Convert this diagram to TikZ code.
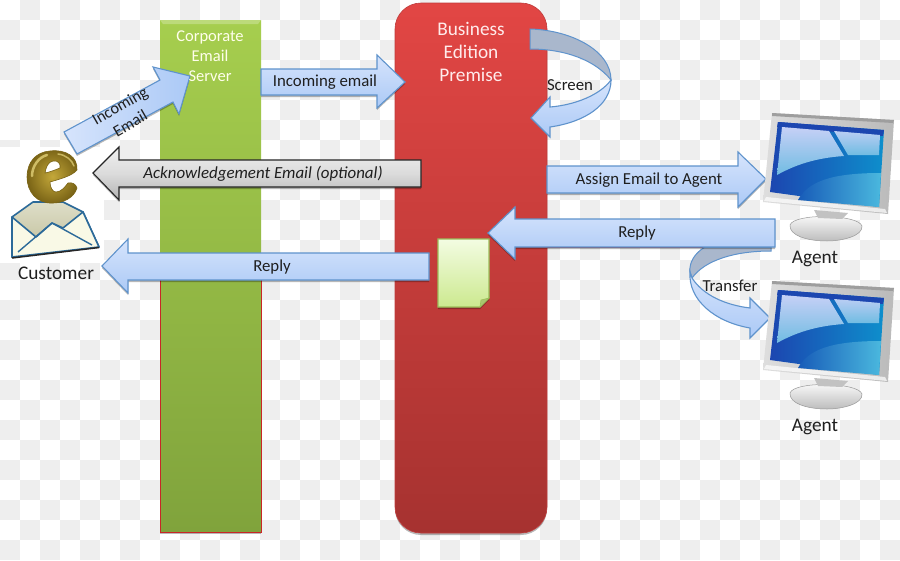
\documentclass[tikz,border=0pt]{standalone}
\usepackage{fontspec}
\setmainfont{Carlito}
\usetikzlibrary{shadows}
\definecolor{chk}{HTML}{EEEEEE}
\definecolor{arrowline}{HTML}{5F93CC}
\definecolor{arrowhi}{HTML}{D6E4FC}
\definecolor{arrowlo}{HTML}{ABC9F6}
\definecolor{foldband}{HTML}{A9B7CC}
\definecolor{goldlo}{HTML}{7A6416}
\definecolor{goldmid}{HTML}{C4A83A}
\definecolor{goldhi}{HTML}{E8D77E}
\definecolor{envline}{HTML}{2C6A99}
\definecolor{scrband}{HTML}{1C46B0}
\definecolor{scrmid}{HTML}{0E8FCC}
\definecolor{scrcyan}{HTML}{4AB8DE}
\definecolor{glarehi}{HTML}{C6D0F6}
\definecolor{glarelo}{HTML}{70BCE2}
\definecolor{servertop}{HTML}{A6CE4E}
\definecolor{servermid}{HTML}{9CC249}
\definecolor{serverlow}{HTML}{80A33C}
\definecolor{premisetop}{HTML}{E24644}
\definecolor{premisemid}{HTML}{CF3F3D}
\definecolor{premiselow}{HTML}{A63230}
\tikzset{
  softshadow/.style={drop shadow={shadow xshift=0pt,shadow yshift=-2pt,opacity=.28,fill=black}},
  blockarrow/.style={draw=arrowline,line width=1.1pt,line join=miter,top color=arrowhi,bottom color=arrowlo,softshadow},
  curvearrow/.style={draw=arrowline,line width=1.1pt,line join=miter,top color=arrowhi,bottom color=arrowlo},
  greyarrow/.style={draw=black!85,line width=1.1pt,top color=black!6,bottom color=black!30,middle color=black!14,softshadow},
  foldedband/.style={draw=arrowline,line width=1pt,fill=foldband},
  lbl/.style={font=\fontsize{16.8}{19}\selectfont,text=black!88,align=center,inner sep=0pt},
  barlbl/.style={font=\fontsize{16.5}{20}\selectfont,text=white!92!yellow,align=center,inner sep=0pt},
  biglbl/.style={font=\fontsize{19.3}{23}\selectfont,text=white!92!red,align=center,inner sep=0pt},
  iconlbl/.style={font=\fontsize{19.3}{21}\selectfont,text=black!88,inner sep=0pt},
  monitor/.pic={
    \path[draw=black!40,line width=.5pt,top color=white,bottom color=black!26] (790,225) .. controls (794,213) and (858,214) .. (862,226) .. controls (863,236) and (842,241) .. (827,241) .. controls (806,241) and (789,235) .. (790,225) -- cycle;
    \path[fill=black!24] (814,210) -- (848,213) -- (842,219) -- (818,218) -- cycle;
    \path[left color=black!13,right color=black!27] (772,113) -- (894,120) -- (888,214) -- (763,202) -- cycle;
    \path[fill=black!38] (772,113) -- (894,120) -- (893,123) -- (772,116) -- cycle;
    \path[fill=white,opacity=.7] (764,201) -- (887,213) -- (885,209) -- (766,197) -- cycle;
    \path[left color=scrband,right color=scrmid] (778,122) -- (884,130) -- (879,207) -- (770,192) -- cycle;
    \path[fill=scrband] (778,122) -- (884,130) -- (883,136) -- (777,127) -- cycle;
    \path[left color=scrband!70!scrmid,right color=scrcyan] (798,200) .. controls (808,182) and (830,173) .. (881,173) -- (879,207) -- cycle;
    \path[top color=glarehi,bottom color=glarelo] (782,127) -- (829,131) -- (844,156) .. controls (815,158) and (795,165) .. (777,175) -- cycle;
    \path[top color=glarehi!85!glarelo,bottom color=glarelo] (834,131) -- (880,135) -- (879,155) -- (848,155) -- cycle;
  }
}
\begin{document}
\begin{tikzpicture}[x=1pt,y=-1pt]
\useasboundingbox (0,0) rectangle (900,560);
% transparent-grid backdrop
\fill[white] (0,0) rectangle (900,560);
\foreach \i in {0,...,44}{
  \foreach \j in {0,...,27}{
    \pgfmathtruncatemacro{\chkodd}{mod(\i+\j,2)}
    \ifnum\chkodd=1 \fill[chk] (20*\i,20*\j) rectangle +(20,20); \fi
  }
}
% clear ground behind the mail icon
\fill[white] (0,147) rectangle (104,263);
% server column
\path[softshadow,top color=servertop,middle color=servermid,bottom color=serverlow] (160,20) rectangle (261,532);
\path[fill=white,opacity=.25] (160,20) -- (261,20) -- (258,24) -- (163,24) -- cycle;
\draw[red!75!black!85,line width=1pt] (160,280) -- (160,532.5) -- (261,532.5) -- (261,280);
% premise column
\path[softshadow,draw={rgb,255:red,190;green,60;blue,60},line width=.6pt,rounded corners=26pt,top color=premisetop,middle color=premisemid,bottom color=premiselow] (395,3) rectangle (547,533);
% document sheet with folded corner
\path[draw={rgb,255:red,155;green,190;blue,90},line width=1.1pt,top color={rgb,255:red,243;green,252;blue,226},bottom color={rgb,255:red,204;green,233;blue,143},softshadow] (438,239) -- (489,239) -- (489,298) -- (480,307) -- (438,307) -- cycle;
\path[draw={rgb,255:red,155;green,190;blue,90},fill={rgb,255:red,170;green,196;blue,112},line width=.6pt] (489,298) -- (481,300) -- (480,307) -- cycle;
% straight block arrows
\path[blockarrow,left color=arrowhi,right color=arrowlo] (64,132) -- (160,80) -- (153,67) -- (190,76) -- (179,114) -- (173,102) -- (77,154) -- cycle;
\path[blockarrow] (261,69) -- (377,69) -- (377,55) -- (405,82) -- (377,108) -- (377,95) -- (261,95) -- cycle;
\path[greyarrow] (421,160) -- (119,160) -- (119,147) -- (93,173) -- (119,200) -- (119,187) -- (421,187) -- cycle;
\path[blockarrow] (429,253) -- (128,253) -- (128,239) -- (102,266) -- (128,293) -- (128,280) -- (429,280) -- cycle;
\path[blockarrow] (547,166) -- (738,166) -- (738,152) -- (766,179) -- (738,207) -- (738,193) -- (547,193) -- cycle;
\draw[red!70!black!80,line width=1pt] (515,247.5) -- (705,247.5);
% looping arrow beside the premise column
\path[foldedband] (530,29) .. controls (570,30) and (611,50) .. (611,80) .. controls (595,60) and (565,49) .. (530,49) -- cycle;
\path[curvearrow] (611,80) .. controls (611,105) and (585,122) .. (550,127) -- (550,137) -- (531,118) -- (550,97) -- (550,107) .. controls (575,105) and (600,95) .. (611,80) -- cycle;
% transfer arrow between the agents
\path[foldedband] (771,247) -- (771,251) .. controls (735,251) and (705,260) .. (692,278) -- (690,272) .. controls (689,262) and (695,253) .. (705,247) -- cycle;
\path[blockarrow] (775,219) -- (515,219) -- (515,207) -- (488,233) -- (515,259) -- (515,247) -- (775,247) -- cycle;
\path[curvearrow] (690,272) .. controls (688,300) and (715,322) .. (750,328) -- (750,338) -- (770,318) -- (750,298) -- (750,308) .. controls (725,305) and (703,295) .. (692,278) -- cycle;
% agent workstations
\pic (agentA) at (0,0) {monitor};
\pic (agentB) at (0,168) {monitor};
% customer mail icon: envelope body, flap lines and the gold letter
\path[draw=envline,line width=1.6pt,top color={rgb,255:red,222;green,222;blue,200},bottom color={rgb,255:red,190;green,188;blue,150},line join=round] (12,217) -- (33,202) -- (63,202) -- (83,212) -- (99,247) -- (12,257) -- cycle;
\path[draw=envline,line width=1.6pt,fill={rgb,255:red,249;green,249;blue,230},line join=round] (12,217) -- (36,237) -- (52,223) -- (63,228) -- (83,212) -- (99,247) -- (12,257) -- cycle;
\draw[envline,line width=1.4pt,line join=round] (18,252) -- (52,223) -- (92,245);
\draw[black!85,line width=1.5pt] (12,258) -- (99,247.5);
\path[even odd rule,draw=goldlo,line width=.6pt,inner color=goldmid,outer color=goldlo]
  (27,177) .. controls (27,162) and (36,152) .. (50,151) .. controls (66,149) and (78,157) .. (77,170)
  .. controls (72,176) and (60,179) .. (50,182) .. controls (50,188) and (53,192) .. (56,192)
  .. controls (61,192) and (65,187) .. (68,183) .. controls (72,182) and (76,184) .. (77,188)
  .. controls (74,198) and (63,203) .. (53,203) .. controls (37,204) and (27,192) .. (27,177) -- cycle
  (45,173) .. controls (46,167) and (48,162) .. (53,161) .. controls (58,160) and (61,164) .. (60,168) .. controls (55,170) and (50,172) .. (45,173) -- cycle;
\draw[goldhi,line width=2.5pt,line cap=round,opacity=.75] (47,155) .. controls (39,157) and (32,166) .. (32,176);
\draw[goldhi,line width=1.5pt,line cap=round,opacity=.7] (58,154) .. controls (66,155) and (72,160) .. (74,166);
% labels
\node[barlbl] (serverlbl) at (210,56) {Corporate\\Email\\Server};
\node[biglbl] (premiselbl) at (471,52) {Business\\Edition\\Premise};
\node[lbl,rotate=30,font=\fontsize{16.3}{20.5}\selectfont] (inmail) at (125,114.5) {Incoming\\Email};
\node[lbl] (inlbl) at (325,82) {Incoming email};
\node[lbl,font=\itshape\fontsize{16.9}{19}\selectfont] (acklbl) at (263,174) {Acknowledgement Email (optional)};
\node[lbl] (replyA) at (272,267) {Reply};
\node[lbl] (replyB) at (637,233) {Reply};
\node[lbl] (assign) at (649,180) {Assign Email to Agent};
\node[lbl] (screen) at (570,85) {Screen};
\node[lbl] (transfer) at (730,286) {Transfer};
\node[iconlbl] (customer) at (56,273) {Customer};
\node[iconlbl] (agentlblA) at (815,259) {Agent};
\node[iconlbl] (agentlblB) at (815,427) {Agent};
\end{tikzpicture}
\end{document}
